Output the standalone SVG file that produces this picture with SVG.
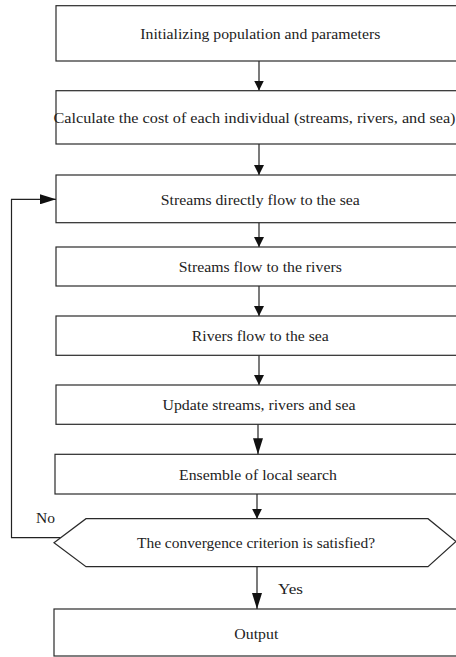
<svg xmlns="http://www.w3.org/2000/svg" width="456" height="657" viewBox="0 0 456 657">
<style>
.box{fill:#fff;stroke:#2a2a2a;stroke-width:1.2}
.t{font-family:"Liberation Serif","Times New Roman",serif;font-size:15.5px;fill:#222;text-anchor:middle}
.c{fill:none;stroke:#222;stroke-width:1.2}
</style>
<defs>
<marker id="ah" viewBox="0 0 10 10" refX="10" refY="5" markerWidth="10" markerHeight="10" markerUnits="userSpaceOnUse" orient="auto">
<path d="M0,0 L10,5 L0,10 z" fill="#111"/>
</marker>
<marker id="ahL" viewBox="0 0 16 10" refX="16" refY="5" markerWidth="16" markerHeight="10" markerUnits="userSpaceOnUse" orient="auto">
<path d="M0,0 L16,5 L0,10 z" fill="#111"/>
</marker>
</defs>
<g id="connectors">
<line class="c" x1="259" y1="61" x2="259" y2="90.5" marker-end="url(#ah)"/>
<line class="c" x1="259" y1="144" x2="259" y2="175" marker-end="url(#ah)"/>
<line class="c" x1="259" y1="222.7" x2="259" y2="247" marker-end="url(#ah)"/>
<line class="c" x1="259" y1="286" x2="259" y2="316" marker-end="url(#ah)"/>
<line class="c" x1="259" y1="355.3" x2="259" y2="385" marker-end="url(#ah)"/>
<line class="c" x1="258" y1="424.3" x2="258" y2="454.3" marker-end="url(#ahL)"/>
<line class="c" x1="257" y1="494" x2="257" y2="518.7" marker-end="url(#ah)"/>
<line class="c" x1="257" y1="566.7" x2="257" y2="609" marker-end="url(#ahL)"/>
<polyline class="c" points="60.7,537.7 11.5,537.7 11.5,199.3 56,199.3" marker-end="url(#ahL)"/>
<text class="t" x="45.5" y="522.5" textLength="19" lengthAdjust="spacingAndGlyphs">No</text>
<text class="t" x="290.5" y="593.5" textLength="25" lengthAdjust="spacingAndGlyphs">Yes</text>
</g>
<g id="n1"><rect class="box" x="56" y="5.7" width="410" height="55.3"/><text class="t" x="260.3" y="38.5" textLength="240" lengthAdjust="spacingAndGlyphs">Initializing population and parameters</text></g>
<g id="n2"><rect class="box" x="56" y="90.7" width="410" height="53.3"/><text class="t" x="254.5" y="122.5" textLength="402" lengthAdjust="spacingAndGlyphs">Calculate the cost of each individual (streams, rivers, and sea)</text></g>
<g id="n3"><rect class="box" x="56" y="175" width="410" height="47.7"/><text class="t" x="260.3" y="204.5" textLength="199" lengthAdjust="spacingAndGlyphs">Streams directly flow to the sea</text></g>
<g id="n4"><rect class="box" x="56" y="247" width="410" height="39"/><text class="t" x="260.3" y="272" textLength="163" lengthAdjust="spacingAndGlyphs">Streams flow to the rivers</text></g>
<g id="n5"><rect class="box" x="56" y="316" width="410" height="39.3"/><text class="t" x="260.3" y="341" textLength="137" lengthAdjust="spacingAndGlyphs">Rivers flow to the sea</text></g>
<g id="n6"><rect class="box" x="56" y="385" width="410" height="39.3"/><text class="t" x="259" y="410" textLength="193" lengthAdjust="spacingAndGlyphs">Update streams, rivers and sea</text></g>
<g id="n7"><rect class="box" x="55" y="454.3" width="411" height="39.7"/><text class="t" x="258" y="479.5" textLength="158" lengthAdjust="spacingAndGlyphs">Ensemble of local search</text></g>
<g id="n8"><polygon class="box" points="54,542.7 86,518.7 428,518.7 456,541.5 428,566.7 86,566.7"/><text class="t" x="256" y="548" textLength="238" lengthAdjust="spacingAndGlyphs">The convergence criterion is satisfied?</text></g>
<g id="n9"><rect class="box" x="54" y="609" width="412" height="47"/><text class="t" x="256.3" y="638.5" textLength="44" lengthAdjust="spacingAndGlyphs">Output</text></g>
</svg>
